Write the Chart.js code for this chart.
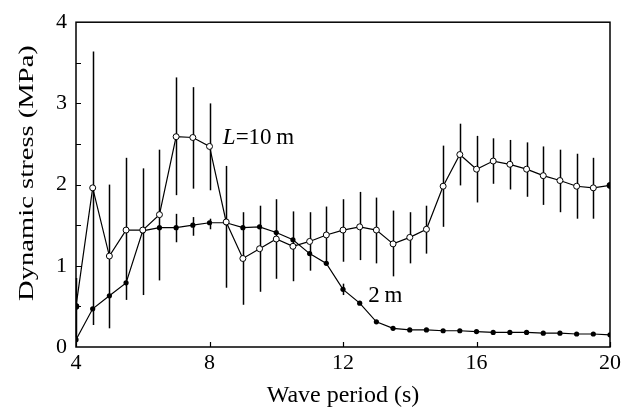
<!DOCTYPE html>
<html>
<head>
<meta charset="utf-8">
<script src="https://cdn.jsdelivr.net/npm/chart.js@4/dist/chart.umd.min.js"></script>
<style>
  body { margin: 0; background: #fff; }
  #wrap { width: 630px; height: 411px; position: relative; }
</style>
</head>
<body>
<div id="wrap"><canvas id="chart"></canvas></div>
<script>
// wave periods (s)
var periods = [4, 4.5, 5, 5.5, 6, 6.5, 7, 7.5, 8, 8.5, 9, 9.5, 10, 10.5, 11, 11.5, 12,
   12.5, 13, 13.5, 14, 14.5, 15, 15.5, 16, 16.5, 17, 17.5, 18, 18.5, 19, 19.5, 20];

// L = 10 m, mean and spread
var stress10 = [0.50, 1.96, 1.12, 1.44, 1.44, 1.63, 2.59, 2.58, 2.47, 1.54, 1.09, 1.21, 1.33,
   1.24, 1.30, 1.38, 1.44, 1.48, 1.44, 1.27, 1.35, 1.45, 1.98, 2.37, 2.19, 2.29, 2.25,
   2.19, 2.11, 2.05, 1.98, 1.96, 1.99];
var low10 = [0.12, 0.27, 0.23, 0.58, 0.64, 0.82, 1.87, 1.95, 1.93, 0.73, 0.52, 0.68, 0.84,
   0.81, 0.94, 1.03, 1.05, 1.07, 1.03, 0.87, 1.03, 1.15, 1.48, 1.99, 1.78, 2.01, 1.94,
   1.85, 1.75, 1.66, 1.58, 1.58, null];
var high10 = [0.85, 3.64, 2.00, 2.33, 2.20, 2.43, 3.32, 3.20, 3.00, 2.23, 1.66, 1.74, 1.82,
   1.67, 1.66, 1.73, 1.82, 1.91, 1.84, 1.68, 1.66, 1.74, 2.48, 2.75, 2.60, 2.57, 2.55,
   2.52, 2.47, 2.43, 2.38, 2.33, null];

// L = 2 m
var stress2 = [0.09, 0.47, 0.63, 0.79, 1.43, 1.47, 1.47, 1.50, 1.53, 1.53, 1.47, 1.48, 1.41,
   1.32, 1.15, 1.03, 0.71, 0.54, 0.31, 0.23, 0.21, 0.21, 0.20, 0.20, 0.19, 0.18, 0.18,
   0.18, 0.17, 0.17, 0.16, 0.16, 0.15];
var low2 = [null, null, null, null, null, null, 1.29, 1.37, 1.45, null, null, null, null,
   null, null, null, 0.64, null, null, null, null, null, null, null, null, null, null,
   null, null, null, null, null, null];
var high2 = [null, null, null, null, null, null, 1.64, 1.60, 1.58, null, null, null, null,
   null, null, null, 0.78, null, null, null, null, null, null, null, null, null, null,
   null, null, null, null, null, null];

var xTicks = [4, 8, 12, 16, 20];
var yTicks = [0, 1, 2, 3, 4];
var yTitle = "Dynamic stress (MPa)";

var serif = "'Liberation Serif', 'Times New Roman', serif";

function points(ys) {
   var out = [];
   for (var i = 0; i < periods.length; i++) {
      out.push({ x: periods[i], y: ys[i] });
   }
   return out;
}

// vertical error bars, drawn through the scales
var errorBars = {
   id: "errorBars",
   beforeDatasetsDraw: function (chart) {
      var ctx = chart.ctx;
      var xs = chart.scales.x, ys = chart.scales.y;
      var sets = [[low10, high10], [low2, high2]];
      ctx.save();
      ctx.strokeStyle = "#000";
      ctx.lineWidth = 1.5;
      sets.forEach(function (s) {
         for (var i = 0; i < periods.length; i++) {
            if (s[0][i] === null) continue;
            var px = Math.round(xs.getPixelForValue(periods[i])) + 0.5;
            ctx.beginPath();
            ctx.moveTo(px, ys.getPixelForValue(s[0][i]));
            ctx.lineTo(px, ys.getPixelForValue(s[1][i]));
            ctx.stroke();
         }
      });
      ctx.restore();
   }
};

// box round the plot, inward ticks, curve labels, y title
var frame = {
   id: "frame",
   afterDraw: function (chart) {
      var ctx = chart.ctx;
      var a = chart.chartArea;
      var xs = chart.scales.x, ys = chart.scales.y;
      ctx.save();
      ctx.strokeStyle = "#000";
      ctx.lineWidth = 1.5;
      ctx.strokeRect(a.left, a.top, a.right - a.left, a.bottom - a.top);
      ctx.lineWidth = 1.2;
      ctx.beginPath();
      for (var v = 0.5; v < 4; v += 0.5) {
         var py = Math.round(ys.getPixelForValue(v)) + 0.5;
         ctx.moveTo(a.left, py);
         ctx.lineTo(a.left + 5, py);
      }
      xTicks.forEach(function (t) {
         var px = Math.round(xs.getPixelForValue(t)) + 0.5;
         ctx.moveTo(px, a.bottom);
         ctx.lineTo(px, a.bottom - 5);
      });
      ctx.stroke();

      ctx.fillStyle = "#000";
      ctx.textBaseline = "alphabetic";
      var lx = xs.getPixelForValue(8.4), ly = ys.getPixelForValue(2.5);
      ctx.font = "italic 23px " + serif;
      ctx.fillText("L", lx, ly);
      var w = ctx.measureText("L").width;
      ctx.font = "23px " + serif;
      ctx.fillText("=10\u2009m", lx + w, ly);
      ctx.fillText("2\u2009m", xs.getPixelForValue(12.76), ys.getPixelForValue(0.556));

      // y title, drawn-out along its length as in the original
      ctx.translate(33, 173);
      ctx.rotate(-Math.PI / 2);
      ctx.scale(1.3, 1);
      ctx.font = "22px " + serif;
      ctx.textAlign = "center";
      ctx.fillText(yTitle, 0, 0);
      ctx.restore();
   }
};

new Chart(document.getElementById("chart"), {
   type: "scatter",
   data: {
      datasets: [{
         label: "L=10 m",
         data: points(stress10),
         showLine: true,
         borderColor: "#000",
         borderWidth: 1.2,
         pointRadius: 3,
         pointBorderWidth: 1,
         pointBorderColor: "#000",
         pointBackgroundColor: function (c) {
            return (c.dataIndex === 0 || c.dataIndex === periods.length - 1) ? "#000" : "#fff";
         }
      }, {
         label: "2 m",
         data: points(stress2),
         showLine: true,
         borderColor: "#000",
         borderWidth: 1.2,
         pointRadius: 2.6,
         pointBorderWidth: 0,
         pointBackgroundColor: "#000"
      }]
   },
   options: {
      responsive: true,
      maintainAspectRatio: false,
      animation: false,
      layout: { padding: { top: 21, right: 20, left: 0, bottom: 0 } },
      plugins: {
         legend: { display: false },
         tooltip: { enabled: false }
      },
      scales: {
         x: {
            type: "linear",
            min: 4,
            max: 20,
            afterFit: function (s) { s.height = 64; },
            afterBuildTicks: function (s) {
               s.ticks = xTicks.map(function (v) { return { value: v }; });
            },
            grid: { display: false, drawTicks: false },
            border: { display: false },
            ticks: {
               color: "#000",
               padding: 3,
               font: { family: serif, size: 22 }
            },
            title: {
               display: true,
               text: "Wave period (s)",
               color: "#000",
               font: { family: serif, size: 24 },
               padding: { top: 0, bottom: 1 }
            }
         },
         y: {
            min: 0,
            max: 4,
            afterFit: function (s) { s.width = 76; },
            afterBuildTicks: function (s) {
               s.ticks = yTicks.map(function (v) { return { value: v }; });
            },
            grid: { display: false, drawTicks: false },
            border: { display: false },
            ticks: {
               color: "#000",
               padding: 9,
               font: { family: serif, size: 22 }
            },
            title: { display: false }
         }
      }
   },
   plugins: [errorBars, frame]
});
</script>
</body>
</html>
